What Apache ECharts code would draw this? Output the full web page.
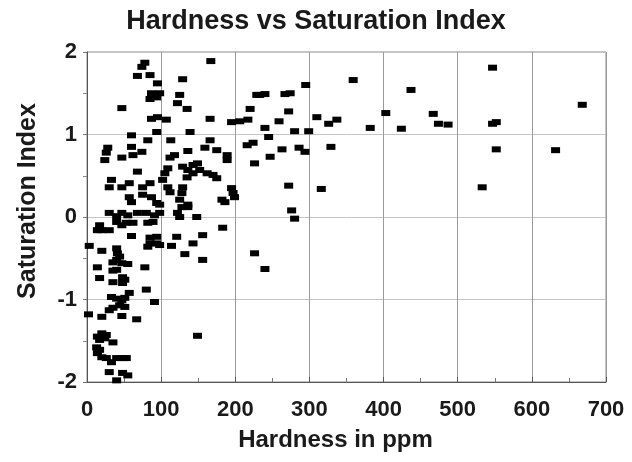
<!DOCTYPE html>
<html>
<head>
<meta charset="utf-8">
<script src="https://cdn.jsdelivr.net/npm/echarts@6/dist/echarts.min.js"></script>
<style>html,body{margin:0;padding:0;background:#fff}#c{width:632px;height:462px}</style>
</head>
<body>
<div id="c"></div>
<script>
var title = 'Hardness vs Saturation Index';
var xName = 'Hardness in ppm';
var yName = 'Saturation Index';
var xTicks = [0, 100, 200, 300, 400, 500, 600, 700];
var yTicks = [-2, -1, 0, 1, 2];

var hardness = [
 78,74,68,85,95,167,129,47,87,85,94,98,125,122,135,87,95,107,94,139,166,195,206,217,220,229,
 60,82,113,28,26,24,60,62,74,47,166,159,136,175,189,189,216,224,226,68,112,118,109,105,129,136,
 143,149,135,143,152,162,175,33,30,47,57,75,85,102,109,112,129,128,125,128,122,125,136,148,57,60,
 75,87,94,98,186,197,199,30,47,55,68,80,91,98,170,
 233,240,267,274,295,359,272,259,240,245,280,299,310,326,337,382,403,424,437,467,474,487,547,547,
 552,552,533,632,668,247,263,286,294,329,272,316,276,280,182,195,183,121,114,156,143,132,156,226,240,136,
 40,17,14,20,30,40,47,53,62,82,89,60,85,94,85,94,98,82,3,20,40,41,44,35,40,47,55,14,35,40,78,
 17,35,48,51,48,80,57,33,40,47,51,91,44,51,30,35,2,20,47,67,149,20,14,17,24,26,35,13,17,14,20,26,
 33,40,48,53,30,48,55,40
];
var saturation = [
 1.87,1.82,1.71,1.72,1.62,1.89,1.67,1.32,1.50,1.43,1.45,1.50,1.48,1.38,1.31,1.19,1.21,1.18,1.03,1.03,1.19,1.15,1.16,1.18,1.31,1.48,
 0.99,0.93,0.93,0.84,0.78,0.69,0.85,0.75,0.79,0.72,0.93,0.84,0.80,0.81,0.75,0.69,0.87,0.90,0.65,0.55,0.72,0.75,0.59,0.53,0.61,0.57,
 0.63,0.65,0.48,0.53,0.57,0.53,0.47,0.45,0.36,0.36,0.41,0.36,0.41,0.45,0.36,0.30,0.36,0.29,0.21,0.12,0.05,0.00,0.12,0.00,0.24,0.18,
 0.27,0.24,0.17,0.15,0.18,0.29,0.24,0.05,0.05,0.02,0.05,0.05,0.02,0.05,0.51,
 1.48,1.49,1.49,1.50,1.60,1.66,1.28,1.16,1.08,0.97,1.04,1.04,1.21,1.13,1.18,1.08,1.26,1.07,1.54,1.25,1.13,1.12,1.81,1.13,
 1.15,0.82,0.36,0.81,1.36,0.73,0.82,0.84,0.79,0.85,0.38,0.34,0.08,-0.02,0.21,0.35,-0.13,-0.24,-0.35,-0.22,-0.32,-0.45,-0.52,-0.44,-0.63,0.15,
 0.01,-0.10,-0.16,-0.16,-0.16,-0.06,-0.10,-0.07,-0.07,-0.07,-0.06,-0.23,-0.25,-0.24,-0.32,-0.32,-0.34,-0.36,-0.35,-0.41,-0.38,-0.44,-0.48,-0.55,-0.52,-0.56,-0.57,-0.61,-0.65,-0.64,-0.61,
 -0.74,-0.79,-0.73,-0.76,-0.80,-0.88,-0.92,-0.97,-0.99,-1.01,-0.98,-1.03,-1.07,-1.09,-1.13,-1.10,-1.18,-1.21,-1.20,-1.24,-1.44,-1.41,-1.45,-1.49,-1.47,-1.43,-1.52,-1.58,-1.61,-1.65,-1.70,-1.71,
 -1.76,-1.71,-1.71,-1.71,-1.88,-1.89,-1.92,-1.98
];

var pts = [];
for (var i = 0; i < Math.min(hardness.length, saturation.length); i++) pts.push([hardness[i], saturation[i]]);

var chart = echarts.init(document.getElementById('c'), null, {renderer: 'canvas'});
var font = '"Liberation Sans", Arial, sans-serif';
chart.setOption({
  animation: false,
  backgroundColor: '#fff',
  title: {
    text: title, left: 'center', top: 3,
    textStyle: {fontFamily: font, fontSize: 27, fontWeight: 'bold', color: '#1a1a1a'}
  },
  grid: {left: 87, right: 26, top: 52, bottom: 80, show: true, borderColor: '#8a8a8a', borderWidth: 1},
  xAxis: {
    type: 'value', min: xTicks[0], max: xTicks[xTicks.length - 1], interval: 100,
    name: xName, nameLocation: 'middle', nameGap: 46,
    nameTextStyle: {fontFamily: font, fontSize: 24, fontWeight: 'bold', color: '#1a1a1a', padding: [0, 22, 0, 0]},
    axisLine: {show: true, onZero: false, lineStyle: {color: '#555', width: 1}},
    axisTick: {show: true, inside: true, length: 5, lineStyle: {color: '#555'}},
    minorTick: {show: true, splitNumber: 2, length: 4, lineStyle: {color: '#777'}},
    axisLabel: {fontFamily: font, fontSize: 22, fontWeight: 'bold', color: '#1a1a1a', margin: 17},
    splitLine: {show: true, lineStyle: {color: '#9a9a9a', width: 1}}
  },
  yAxis: {
    type: 'value', min: yTicks[0], max: yTicks[yTicks.length - 1], interval: 1,
    name: yName, nameLocation: 'middle', nameGap: 46,
    nameTextStyle: {fontFamily: font, fontSize: 25, fontWeight: 'bold', color: '#1a1a1a', padding: [0, 0, 0, 32]},
    axisLine: {show: true, onZero: false, lineStyle: {color: '#555', width: 1}},
    axisTick: {show: true, inside: false, length: 4, lineStyle: {color: '#777'}},
    minorTick: {show: true, splitNumber: 2, length: 4, lineStyle: {color: '#888'}},
    axisLabel: {fontFamily: font, fontSize: 22, fontWeight: 'bold', color: '#1a1a1a', margin: 10},
    splitLine: {show: true, lineStyle: {color: '#c4c4c4', width: 1}}
  },
  series: [{
    type: 'scatter', data: pts, symbol: 'rect', symbolSize: [9, 6],
    itemStyle: {color: '#000', opacity: 1}
  }]
});
</script>
</body>
</html>
